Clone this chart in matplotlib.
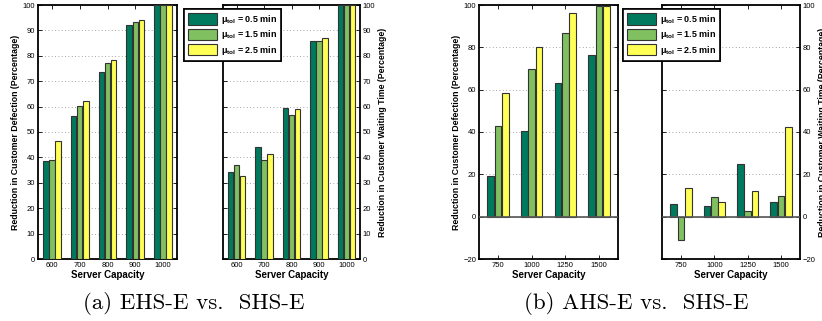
import numpy as np
import matplotlib
matplotlib.use('Agg')
import matplotlib.pyplot as plt

plt.rcParams['font.family'] = ['Liberation Sans', 'DejaVu Sans']
plt.rcParams['mathtext.fontset'] = 'custom'
plt.rcParams['mathtext.rm'] = 'Liberation Sans'
plt.rcParams['mathtext.it'] = 'Liberation Sans'

# data
cap_a = ['600', '700', '800', '900', '1000']
defect_a_05 = [38.5, 56.3, 73.7, 92.1, 100]
defect_a_15 = [39.0, 60.3, 77.3, 93.5, 100]
defect_a_25 = [46.3, 62.2, 78.4, 94.1, 100]
wait_a_05 = [34.4, 43.9, 59.6, 86.0, 100]
wait_a_15 = [37.1, 39.0, 56.8, 85.7, 100]
wait_a_25 = [32.5, 41.3, 59.2, 86.9, 100]

cap_b = ['750', '1000', '1250', '1500']
defect_b_05 = [19.0, 40.3, 63.3, 76.2]
defect_b_15 = [43.0, 70.0, 86.7, 99.7]
defect_b_25 = [58.3, 80.0, 96.0, 99.4]
wait_b_05 = [6.0, 5.2, 24.8, 6.8]
wait_b_15 = [-11.0, 9.2, 2.5, 9.7]
wait_b_25 = [13.5, 7.1, 12.2, 42.2]

series_labels = [r'$\mathregular{\mu_{tol}}$ = 0.5 min',
                 r'$\mathregular{\mu_{tol}}$ = 1.5 min',
                 r'$\mathregular{\mu_{tol}}$ = 2.5 min']
colors = ['#007a5e', '#80c060', '#ffff55']

W, H = 822, 321
fig = plt.figure(figsize=(W / 100, H / 100), dpi=100)


def make_ax(x0, x1, ylim, yticks, cats, series, ylabel, right=False, pad=0.5):
    ax = fig.add_axes([x0 / W, 1 - 259 / H, (x1 - x0) / W, 254 / H])
    x = np.arange(len(cats))
    bars = []
    for i, vals in enumerate(series):
        b = ax.bar(x + (i - 1) * 0.22, vals, width=0.2, color=colors[i],
                   edgecolor='#333333', linewidth=0.8, zorder=3)
        bars.append(b)
    ax.set_xlim(-pad, len(cats) - 1 + pad)
    ax.set_ylim(*ylim)
    ax.set_yticks(yticks)
    ax.set_xticks(x)
    ax.set_xticklabels(cats)
    if ylim[0] < 0:
        ax.axhline(0, color='#555555', lw=1.2, zorder=4)
    ax.grid(axis='y', linestyle=(0, (1, 3)), color='#888888', lw=0.6, zorder=0)
    ax.tick_params(direction='in', length=3, width=0.6, labelsize=5.5,
                   top=True, right=True, pad=2)
    if right:
        ax.yaxis.tick_right()
        ax.tick_params(axis='y', left=True, direction='in')
        ax.yaxis.set_label_position('right')
    for s in ax.spines.values():
        s.set_linewidth(1.3)
    ax.set_xlabel('Server Capacity', fontsize=7, fontweight='bold', labelpad=1)
    ax.set_ylabel(ylabel, fontsize=6.3, fontweight='bold', labelpad=2)
    return ax, bars


ylab_def = 'Reduction in Customer Defection (Percentage)'
ylab_wait = 'Reduction in Customer Waiting Time (Percentage)'

ax1, bars = make_ax(38, 177, (0, 100), range(0, 101, 10), cap_a,
                    [defect_a_05, defect_a_15, defect_a_25], ylab_def)
ax2, _ = make_ax(223, 360, (0, 100), range(0, 101, 10), cap_a,
                 [wait_a_05, wait_a_15, wait_a_25], ylab_wait, right=True)
ax3, _ = make_ax(479, 618, (-20, 100), range(-20, 101, 20), cap_b,
                 [defect_b_05, defect_b_15, defect_b_25], ylab_def, pad=0.57)
ax4, _ = make_ax(662, 800, (-20, 100), range(-20, 101, 20), cap_b,
                 [wait_b_05, wait_b_15, wait_b_25], ylab_wait, right=True, pad=0.57)

for lx in (184, 623):
    leg = fig.legend(bars, series_labels, loc='upper left',
                     bbox_to_anchor=(lx / W, 1 - 9 / H),
                     prop={'size': 6.5, 'weight': 'bold'},
                     handlelength=3.2, handleheight=1.6, handletextpad=0.4,
                     labelspacing=0.25, borderpad=0.45, borderaxespad=0,
                     fancybox=False, framealpha=1, edgecolor='black')
    leg.get_frame().set_linewidth(1.2)
    fig.add_artist(leg)

fig.text(194 / W, 1 - 309 / H, '(a) EHS-E vs.  SHS-E', family='cmr10',
         fontsize=16.5, ha='center', va='baseline')
fig.text(636 / W, 1 - 309 / H, '(b) AHS-E vs.  SHS-E', family='cmr10',
         fontsize=16.5, ha='center', va='baseline')

fig.savefig('out.png', dpi=100)
